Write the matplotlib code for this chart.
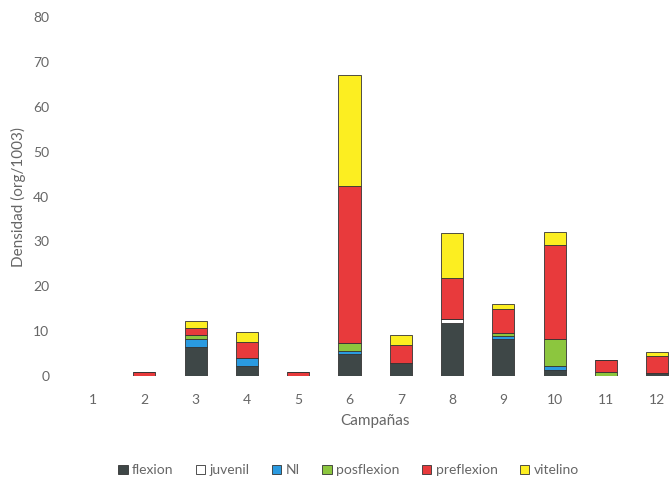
import matplotlib.pyplot as plt
import numpy as np

# --- data: density per campaign and larval stage ---
campaigns = ['1', '2', '3', '4', '5', '6', '7', '8', '9', '10', '11', '12']
flexion = [0, 0, 6.5, 2.2, 0, 4.9, 2.8, 11.9, 8.2, 1.3, 0, 0.6]
juvenil = [0, 0, 0, 0, 0, 0, 0, 0.8, 0, 0, 0, 0]
ni = [0, 0, 1.7, 1.9, 0, 0.7, 0, 0, 0.7, 0.9, 0, 0]
posflexion = [0, 0, 0.9, 0, 0, 1.8, 0, 0, 0.7, 6.0, 1.0, 0]
preflexion = [0, 0.8, 1.7, 3.5, 0.8, 35.0, 4.0, 9.1, 5.3, 21.1, 2.6, 3.9]
vitelino = [0, 0, 1.5, 2.2, 0, 24.7, 2.3, 10.0, 1.1, 2.8, 0, 0.9]

stages = ['flexion', 'juvenil', 'NI', 'posflexion', 'preflexion', 'vitelino']
series = [flexion, juvenil, ni, posflexion, preflexion, vitelino]
colors = ['#3e4747', '#ffffff', '#2a9ae0', '#8cc63e', '#e83a3c', '#fcee21']

TEXT = '#666666'
plt.rcParams['font.family'] = ['Lato', 'DejaVu Sans']

fig = plt.figure(figsize=(6.7, 4.83), dpi=100)
ax = fig.add_axes([0.1006, 0.2215, 0.9187, 0.7433])

x = np.arange(len(campaigns))
bottom = np.zeros(len(campaigns))
for name, vals, col in zip(stages, series, colors):
    vals = np.array(vals)
    ax.bar(x, vals, width=0.43, bottom=bottom, color=col,
           edgecolor='#333333', linewidth=0.6, label=name)
    bottom += vals

ax.set_xlim(-0.5, len(campaigns) - 0.5)
ax.set_ylim(0, 80)
ax.set_yticks(range(0, 81, 10))
ax.set_xticks(x)
ax.set_xticklabels(campaigns)

for s in ax.spines.values():
    s.set_visible(False)
ax.tick_params(length=0, colors=TEXT, labelsize=10)
ax.tick_params(axis='x', pad=13)
ax.tick_params(axis='y', pad=13)

ax.set_xlabel('Campañas', color=TEXT, fontsize=11, labelpad=6)
ax.set_ylabel('Densidad (org/1003)', color=TEXT, fontsize=11, labelpad=5)

leg = fig.legend(loc='center', bbox_to_anchor=(0.52, 0.026), ncol=6,
                 frameon=False, fontsize=10, handlelength=0.7,
                 handleheight=0.7, handletextpad=0.3, columnspacing=1.6)
for t in leg.get_texts():
    t.set_color(TEXT)

fig.savefig('out.png', dpi=100)
